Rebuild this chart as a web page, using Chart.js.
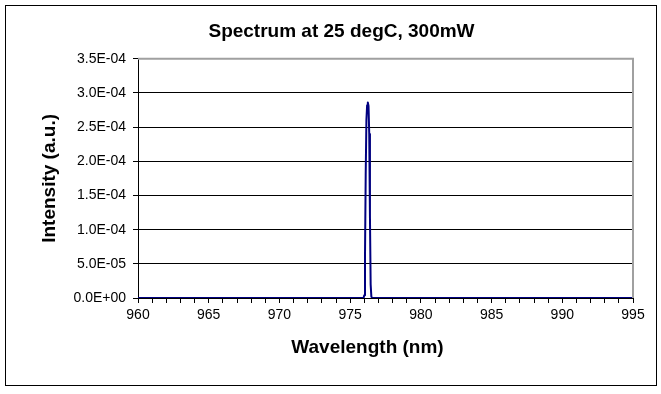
<!DOCTYPE html>
<html>
<head>
<meta charset="utf-8">
<title>Spectrum at 25 degC, 300mW</title>
<script src="https://cdn.jsdelivr.net/npm/chart.js@4/dist/chart.umd.min.js"></script>
<style>
	html, body { margin: 0; padding: 0; background: #fff; overflow: hidden; }
	#wrap { position: relative; width: 661px; height: 394px; }
</style>
</head>
<body>
<div id="wrap"><canvas id="chart-0" width="661" height="394"></canvas></div>
<script>
'use strict';

var TITLE = 'Spectrum at 25 degC, 300mW';
var X_TITLE = 'Wavelength (nm)';
var Y_TITLE = 'Intensity (a.u.)';

// wavelength (nm) and intensity (a.u.)
var WAVELENGTHS = [960, 965, 970, 975, 975.95, 976.0, 976.05, 976.1, 976.15, 976.2,
	976.25, 976.3, 976.35, 976.4, 976.45, 976.5, 976.55, 980, 985, 990, 995];
var INTENSITIES = [0, 0, 0, 0, 0, 0.000004, 0.00006, 0.00018, 0.00026, 0.000282,
	0.000286, 0.000281, 0.00024, 0.00012, 0.00002, 0.000002, 0, 0, 0, 0, 0];

var X_MIN = 960;
var X_MAX = 995;
var Y_MIN = 0;
var Y_MAX = 0.00035;
var Y_STEP = 0.00005;

var FONT = 'Arial, "Liberation Sans", sans-serif';

function sciLabel(value) {
	var parts = Number(value).toExponential(1).toUpperCase().split('E');
	var exp = parseInt(parts[1], 10);
	var sign = exp < 0 ? '-' : '+';
	var digits = String(Math.abs(exp));
	if (digits.length < 2) {
		digits = '0' + digits;
	}
	return parts[0] + 'E' + sign + digits;
}

var points = WAVELENGTHS.map(function(x, i) {
	return {x: x, y: INTENSITIES[i]};
});

// frame, grey plot border and the x axis title
var excelFrame = {
	id: 'excelFrame',
	afterDraw: function(chart) {
		var ctx = chart.ctx;
		var area = chart.chartArea;
		ctx.save();
		ctx.strokeStyle = '#a0a0a0';
		ctx.lineWidth = 2;
		ctx.beginPath();
		ctx.moveTo(area.left, area.top);
		ctx.lineTo(area.right, area.top);
		ctx.lineTo(area.right, area.bottom);
		ctx.stroke();

		ctx.strokeStyle = '#000';
		ctx.lineWidth = 1;
		ctx.strokeRect(5.5, 5.5, 651, 380);

		ctx.fillStyle = '#000';
		ctx.font = 'bold 19px ' + FONT;
		ctx.textAlign = 'center';
		ctx.textBaseline = 'middle';
		ctx.fillText(X_TITLE, (area.left + area.right) / 2 - 18, 348);
		ctx.restore();
	}
};

window.addEventListener('load', function() {
	new Chart('chart-0', {
		type: 'line',
		data: {
			datasets: [{
				data: points,
				borderColor: '#000080',
				backgroundColor: '#000080',
				borderWidth: 2,
				borderJoinStyle: 'round',
				pointRadius: 0,
				tension: 0,
				fill: false
			}]
		},
		options: {
			responsive: false,
			animation: false,
			events: [],
			layout: {
				padding: {left: 22, right: 0, top: 0, bottom: 0}
			},
			plugins: {
				legend: {display: false},
				tooltip: {enabled: false},
				title: {
					display: true,
					text: TITLE,
					color: '#000',
					font: {family: FONT, size: 19, weight: 'bold'},
					padding: {top: 20, bottom: 16}
				}
			},
			scales: {
				x: {
					type: 'linear',
					min: X_MIN,
					max: X_MAX,
					afterFit: function(scale) {
						scale.height = 96;
					},
					grid: {
						drawOnChartArea: false,
						drawTicks: true,
						tickLength: 5,
						color: '#000'
					},
					border: {color: '#000', width: 1},
					ticks: {
						stepSize: 1,
						autoSkip: false,
						maxRotation: 0,
						padding: 4,
						color: '#000',
						font: {family: FONT, size: 14},
						callback: function(value) {
							return value % 5 === 0 ? String(value) : '';
						}
					}
				},
				y: {
					min: Y_MIN,
					max: Y_MAX,
					afterFit: function(scale) {
						scale.width = 116;
					},
					grid: {
						color: '#000',
						lineWidth: 1,
						tickLength: 5
					},
					border: {color: '#000', width: 1},
					ticks: {
						stepSize: Y_STEP,
						padding: 7,
						color: '#000',
						font: {family: FONT, size: 14},
						callback: function(value) {
							return sciLabel(value);
						}
					},
					title: {
						display: true,
						text: Y_TITLE,
						color: '#000',
						font: {family: FONT, size: 19, weight: 'bold'},
						padding: {top: 16, bottom: 0}
					}
				},
				y2: {
					position: 'right',
					display: true,
					min: Y_MIN,
					max: Y_MAX,
					afterFit: function(scale) {
						scale.width = 28;
					},
					grid: {display: false},
					border: {display: false},
					ticks: {display: false}
				}
			}
		},
		plugins: [excelFrame]
	});
});
</script>
</body>
</html>
